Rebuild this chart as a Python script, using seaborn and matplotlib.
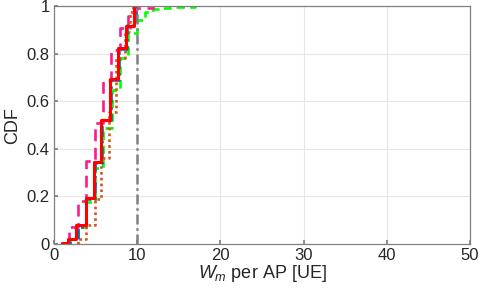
import numpy as np
import matplotlib
matplotlib.use("Agg")
import matplotlib.pyplot as plt
import seaborn as sns

# step positions (W_m per AP) and CDF level reached after each step
red_x = [1.0, 1.7, 2.7, 3.8, 4.8, 5.7, 6.7, 7.7, 8.7, 9.6]
red_cdf = [0.006, 0.02, 0.078, 0.195, 0.345, 0.523, 0.692, 0.823, 0.916, 1.0]

blue_x = [1.0, 1.9, 2.9, 3.9, 4.9, 5.8, 6.8, 7.8, 8.8, 9.8]
blue_cdf = [0.003, 0.02, 0.07, 0.19, 0.34, 0.52, 0.69, 0.82, 0.92, 1.0]

orange_x = [2.9, 3.9, 4.9, 5.7, 6.6, 7.5, 8.5, 9.1, 9.5]
orange_cdf = [0.02, 0.08, 0.19, 0.36, 0.555, 0.78, 0.89, 0.975, 1.0]

pink_x = [1.8, 2.9, 3.9, 4.9, 5.9, 6.9, 7.9, 8.9, 9.9, 11.9]
pink_cdf = [0.07, 0.18, 0.35, 0.51, 0.69, 0.815, 0.91, 0.96, 0.993, 1.0]

green_x = [1.9, 2.9, 3.9, 4.9, 5.9, 7.0, 7.9, 8.9, 9.95, 10.9, 11.9, 13, 14, 15, 16, 17]
green_cdf = [0.02, 0.07, 0.175, 0.32, 0.488, 0.646, 0.78, 0.885, 0.94, 0.976, 0.99,
             0.993, 0.995, 0.997, 0.998, 1.0]

threshold = 10

xticks = [0, 10, 20, 30, 40, 50]
yticks = [0, 0.2, 0.4, 0.6, 0.8, 1]
ytick_labels = ["0", "0.2", "0.4", "0.6", "0.8", "1"]

sns.set_theme(style="whitegrid")
plt.rcParams["font.family"] = ["Liberation Sans", "DejaVu Sans"]
plt.rcParams["mathtext.fontset"] = "custom"
plt.rcParams["mathtext.it"] = "Liberation Sans:italic"
plt.rcParams["mathtext.rm"] = "Liberation Sans"

fig = plt.figure(figsize=(4.79, 2.92), dpi=100)
ax = fig.add_axes([0.1127, 0.1644, 0.8683, 0.8146])

series = [
    (green_x, green_cdf, "#00ff00", (0, (3.2, 2.0)), 1.9),
    (pink_x, pink_cdf, "#ff1a8c", (0, (4.5, 2.5)), 1.9),
    (orange_x, orange_cdf, "#d95319", (0, (1.0, 1.2)), 1.9),
    (blue_x, blue_cdf, "#0072bd", (0, (4.0, 1.5, 1.0, 1.5)), 1.9),
    (red_x, red_cdf, "#ff0000", "-", 2.2),
]

for xs, cdf, col, ls, lw in series:
    w = np.diff(np.r_[0.0, cdf])
    sns.ecdfplot(x=np.array(xs), weights=w, ax=ax, color=col,
                 linestyle=ls, linewidth=lw)

ax.axvline(threshold, color="#808080", linestyle=(0, (4.0, 1.5, 1.0, 1.5)), linewidth=1.8)

ax.set_xlim(0, 50)
ax.set_ylim(0, 1)
ax.set_xticks(xticks)
ax.set_yticks(yticks)
ax.set_yticklabels(ytick_labels)
ax.grid(True, color="#e6e6e6", linewidth=0.8)
for s in ax.spines.values():
    s.set_color("#808080")
    s.set_linewidth(0.9)
ax.tick_params(direction="in", length=3, color="#808080", labelsize=12,
               labelcolor="#262626", pad=3, left=True, bottom=True)
ax.set_xlabel(r"$W_m$ per AP [UE]", fontsize=13, color="#262626", labelpad=0)
ax.set_ylabel("CDF", fontsize=13, color="#262626", labelpad=4)

fig.savefig("out.png", dpi=100)
